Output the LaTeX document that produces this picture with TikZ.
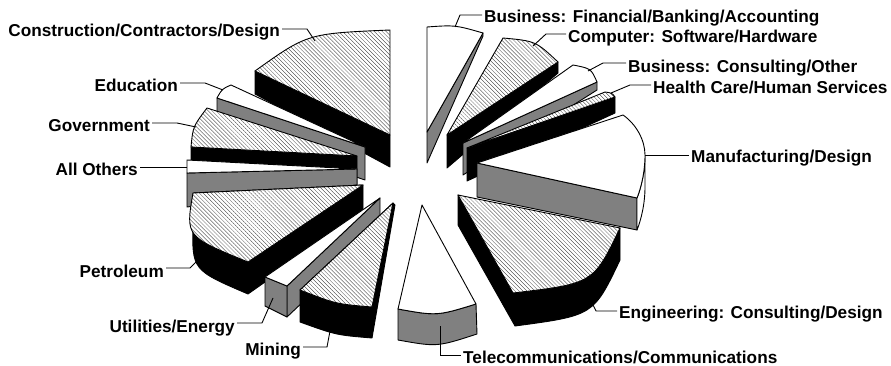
\documentclass[tikz,border=0pt]{standalone}
\usepackage{fontspec}
\setmainfont{Liberation Sans}
\usetikzlibrary{patterns.meta}
\definecolor{midgray}{RGB}{128,128,128}
\tikzset{
  face/.style={draw=black, line width=0.9pt, line join=round},
  whitef/.style={face, fill=white},
  grayf/.style={face, fill=midgray},
  blackf/.style={face, fill=black},
  hatchf/.style={face, preaction={fill=white},
    pattern={Lines[angle=-45,distance=2.8pt,line width=0.3pt]}, pattern color=black!80},
  leader/.style={draw=black, line width=0.9pt},
  lab/.style={font=\fontsize{17.2}{20}\selectfont\bfseries, inner sep=2pt}
}
\begin{document}
\begin{tikzpicture}[x=1pt,y=-1pt]
\useasboundingbox (0,0) rectangle (891,366);
% Construction
\path[blackf] (255,71) -- (255,94) -- (390,167) -- (390,135) -- cycle;
\path[hatchf] (390,135) -- (255,71) .. controls (307.5,33.5) .. (390,30) -- cycle;
% Business Financial
\path[grayf] (483,33) -- (483,36) -- (427,163) -- (427,132) -- cycle;
\path[whitef] (427,132) -- (427,27) .. controls (455,25) .. (483,33) -- cycle;
% Computer
\path[blackf] (558,62) -- (558,73) -- (447,168) -- (447,135) -- cycle;
\path[hatchf] (447,135) -- (503,38) .. controls (535.5,41) .. (558,62) -- cycle;
% Education
\path[grayf] (217,98) -- (217,130) -- (365,180) -- (365,147) -- cycle;
\path[whitef] (365,147) -- (217,98) .. controls (222,89) .. (231,85) -- cycle;
% Business Consulting
\path[grayf] (597,82) -- (597,90) -- (463,175) -- (463,143) -- cycle;
\path[whitef] (463,143) -- (573,65) .. controls (591,68.5) .. (597,82) -- cycle;
% Health Care
\path[blackf] (615,97) -- (615,113) -- (467,181) -- (467,148) -- cycle;
\path[hatchf] (467,148) -- (605,92) .. controls (612,93) .. (615,97) -- cycle;
% Government
\path[blackf] (191,147) -- (191,180) -- (357,187) -- (357,156) -- cycle;
\path[hatchf] (357,156) -- (207,108) .. controls (193,126.5) .. (191,147) -- cycle;
% Manufacturing
\path[grayf] (637,198) -- (637,230) -- (477,197) -- (477,163) -- cycle;
\path[whitef] (645,155) -- (645,187) .. controls (645,204) and (641,220) .. (637,230) -- (637,198) .. controls (641,188) and (645,172) .. (645,155) -- cycle;
\path[whitef] (477,163) -- (623,115) .. controls (636,124) and (645,140) .. (645,155) .. controls (645,172) and (641,188) .. (637,198) -- cycle;
% All Others
\path[grayf] (187,173) -- (187,207) -- (357,185) -- (357,169) -- cycle;
\path[whitef] (357,169) -- (187,160) -- (187,173) -- cycle;
% Petroleum
\path[blackf] (363,185) -- (363,213) -- (248,294) .. controls (192,270) .. (193,224) -- (193,193) -- cycle;
\path[hatchf] (363,185) -- (193,193) .. controls (185.5,236.5) .. (248,262) -- cycle;
% Engineering
\path[blackf] (458,195) -- (458,225) -- (515,326) .. controls (593.5,315.5) .. (620,260) -- (620,228) .. controls (593.5,283.5) .. (513,293) -- cycle;
\path[hatchf] (458,195) -- (513,293) .. controls (593.5,283.5) .. (620,228) -- cycle;
% Utilities
\path[grayf] (380,198) -- (380,229) -- (287,317) -- (287,286) -- cycle;
\path[grayf] (265,277) -- (287,286) -- (287,317) -- (265,306) -- cycle;
\path[whitef] (380,198) -- (265,277) -- (287,286) -- cycle;
% Mining
\path[blackf] (393,203) -- (395,205) -- (372,338) .. controls (336,335) .. (300,322) -- (300,290) -- cycle;
\path[hatchf] (393,203) -- (300,290) .. controls (336,304) .. (372,307) -- cycle;
% Telecom
\path[grayf] (398,309) .. controls (437,316) .. (476,304) -- (477,334) .. controls (437,347) .. (398,340) -- cycle;
\path[whitef] (422,205) -- (398,309) .. controls (437,316) .. (476,304) -- cycle;

% Labels
\node[lab, anchor=base east] (lConstr) at (282,37) {Construction/Contractors/Design};
\node[lab, anchor=base east] (lEdu) at (180,92) {Education};
\node[lab, anchor=base east] (lGov) at (152,132) {Government};
\node[lab, anchor=base east] (lOth) at (140,176) {All Others};
\node[lab, anchor=base east] (lPet) at (166,277) {Petroleum};
\node[lab, anchor=base east] (lUti) at (237,332) {Utilities/Energy};
\node[lab, anchor=base east] (lMin) at (303,355) {Mining};
\node[lab, anchor=base west] (lTel) at (461,363) {Telecommunications/Communications};
\node[lab, anchor=base west] (lEng) at (617,318) {Engineering: Consulting/Design};
\node[lab, anchor=base west] (lMan) at (689,163) {Manufacturing/Design};
\node[lab, anchor=base west] (lHea) at (651,94) {Health Care/Human Services};
\node[lab, anchor=base west] (lCon) at (626,73) {Business: Consulting/Other};
\node[lab, anchor=base west] (lCom) at (566,43) {Computer: Software/Hardware};
\node[lab, anchor=base west] (lFin) at (482,23) {Business: Financial/Banking/Accounting};

% Leader coordinates
\coordinate (aConstr) at (315,41); \coordinate (bConstr) at (307,29);
\coordinate (aEdu) at (223,90); \coordinate (bEdu) at (205,83);
\coordinate (aGov) at (196,127); \coordinate (bGov) at (177,123);
\coordinate (aOth) at (187,167);
\coordinate (aPet) at (201,257); \coordinate (bPet) at (190,268);
\coordinate (aUti) at (273,298); \coordinate (bUti) at (262,323);
\coordinate (aMin) at (330,331); \coordinate (bMin) at (327,347);
\coordinate (aTel) at (440,326); \coordinate (bTel) at (440,355);
\coordinate (aEng) at (589,297); \coordinate (bEng) at (596,311);
\coordinate (aMan) at (645,155);
\coordinate (aHea) at (611,93); \coordinate (bHea) at (630,85);
\coordinate (aCon) at (588,71); \coordinate (bCon) at (603,63);
\coordinate (aCom) at (533,46); \coordinate (bCom) at (546,34);
\coordinate (aFin) at (455,27); \coordinate (bFin) at (460,15);

\draw[leader] (aConstr) -- (bConstr) -- (bConstr -| lConstr.east);
\draw[leader] (aEdu) -- (bEdu) -- (bEdu -| lEdu.east);
\draw[leader] (aGov) -- (bGov) -- (bGov -| lGov.east);
\draw[leader] (aOth) -- (aOth -| lOth.east);
\draw[leader] (aPet) -- (bPet) -- (bPet -| lPet.east);
\draw[leader] (aUti) -- (bUti) -- (bUti -| lUti.east);
\draw[leader] (aMin) -- (bMin) -- (bMin -| lMin.east);
\draw[leader] (aTel) -- (bTel) -- (bTel -| lTel.west);
\draw[leader] (aEng) -- (bEng) -- (bEng -| lEng.west);
\draw[leader] (aMan) -- (aMan -| lMan.west);
\draw[leader] (aHea) -- (bHea) -- (bHea -| lHea.west);
\draw[leader] (aCon) -- (bCon) -- (bCon -| lCon.west);
\draw[leader] (aCom) -- (bCom) -- (bCom -| lCom.west);
\draw[leader] (aFin) -- (bFin) -- (bFin -| lFin.west);
\end{tikzpicture}
\end{document}
